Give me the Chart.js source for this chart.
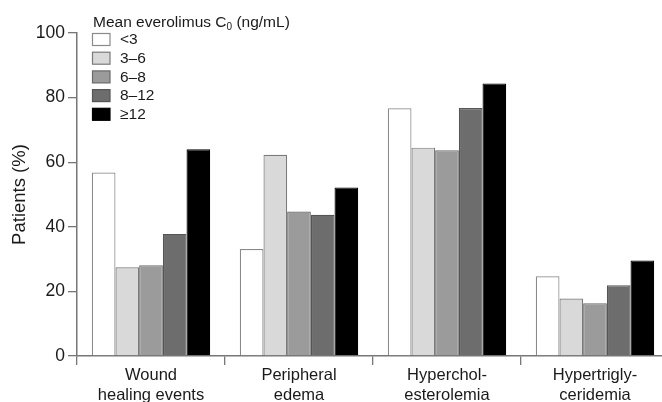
<!DOCTYPE html>
<html>
<head>
<meta charset="utf-8">
<script src="https://cdn.jsdelivr.net/npm/chart.js@4.4.1/dist/chart.umd.min.js"></script>
<style>
  html, body { margin: 0; padding: 0; background: #fff; overflow: hidden; }
  #wrap { width: 669px; height: 402px; }
</style>
</head>
<body>
<div id="wrap"><canvas id="chart"></canvas></div>
<script>
// categories and values (patients, %)
const categories = [['Wound', 'healing events'], ['Peripheral', 'edema'], ['Hyperchol-', 'esterolemia'], ['Hypertrigly-', 'ceridemia']];
const groupLabels = ['<3', '3\u20136', '6\u20138', '8\u201312', '\u226512'];
const lt3 = [56.8, 33.1, 76.7, 24.7];
const c3to6 = [27.5, 62.3, 64.5, 17.8];
const c6to8 = [28.1, 44.7, 63.7, 16.3];
const c8to12 = [37.8, 43.7, 76.8, 21.9];
const ge12 = [64.0, 52.2, 84.4, 29.6];
const yTicks = [0, 20, 40, 60, 80, 100];

const fills = ['#ffffff', '#d9d9d9', '#9b9b9b', '#6d6d6d', '#000000'];
const borders = ['#8a8a8a', '#7a7a7a', '#6a6a6a', '#555555', '#000000'];
const FONT = '"Liberation Sans", Arial, sans-serif';
const TEXT = '#1a1a1a';

// legend drawn inside the plot, top left
const legendPlugin = {
  id: 'boxLegend',
  afterDraw(chart) {
    const ctx = chart.ctx;
    ctx.save();
    ctx.fillStyle = TEXT;
    ctx.textBaseline = 'alphabetic';
    ctx.font = '15.5px ' + FONT;
    let x = 93;
    const ty = 27;
    ctx.fillText('Mean everolimus C', x, ty);
    x += ctx.measureText('Mean everolimus C').width;
    ctx.font = '10px ' + FONT;
    ctx.fillText('0', x, ty + 3);
    x += ctx.measureText('0').width;
    ctx.font = '15.5px ' + FONT;
    ctx.fillText(' (ng/mL)', x, ty);

    ctx.textBaseline = 'middle';
    chart.data.datasets.forEach((ds, i) => {
      const y = 33.5 + i * 18.7;
      ctx.fillStyle = ds.backgroundColor;
      ctx.fillRect(92.5, y, 17.5, 12);
      ctx.strokeStyle = ds.borderColor;
      ctx.lineWidth = 1.2;
      ctx.strokeRect(92.5, y, 17.5, 12);
      ctx.fillStyle = TEXT;
      ctx.font = '15.5px ' + FONT;
      ctx.fillText(ds.label, 120, y + 6.5);
    });
    ctx.restore();
  }
};

const series = [lt3, c3to6, c6to8, c8to12, ge12];

new Chart(document.getElementById('chart'), {
  type: 'bar',
  data: {
    labels: categories,
    datasets: series.map((vals, i) => ({
      label: groupLabels[i],
      data: vals,
      backgroundColor: fills[i],
      borderColor: borders[i],
      borderWidth: 1.2,
      categoryPercentage: 0.8,
      barPercentage: 1.0
    }))
  },
  options: {
    responsive: true,
    maintainAspectRatio: false,
    animation: false,
    layout: { padding: { top: 33, right: 0, left: 0, bottom: 0 } },
    plugins: {
      legend: { display: false },
      tooltip: { enabled: false }
    },
    scales: {
      x: {
        grid: {
          offset: true,
          drawOnChartArea: false,
          drawTicks: true,
          tickLength: 9,
          color: '#777',
          lineWidth: 1.3
        },
        border: { color: '#777', width: 1.5 },
        ticks: {
          color: TEXT,
          font: { family: FONT, size: 16.5, lineHeight: 1.22 },
          padding: 0,
          maxRotation: 0,
          autoSkip: false
        },
        afterFit(scale) { scale.height = 46; }
      },
      y: {
        min: 0,
        max: 100,
        afterBuildTicks(scale) { scale.ticks = yTicks.map(v => ({ value: v })); },
        grid: {
          drawOnChartArea: false,
          drawTicks: true,
          tickLength: 9,
          color: '#777',
          lineWidth: 1.3
        },
        border: { color: '#777', width: 1.5 },
        ticks: {
          color: TEXT,
          font: { family: FONT, size: 17.5 },
          padding: 3
        },
        title: {
          display: true,
          text: 'Patients (%)',
          color: TEXT,
          font: { family: FONT, size: 18.5 },
          padding: { top: 9, bottom: 0 }
        },
        afterFit(scale) { scale.width = 77; }
      }
    }
  },
  plugins: [legendPlugin]
});
</script>
</body>
</html>
